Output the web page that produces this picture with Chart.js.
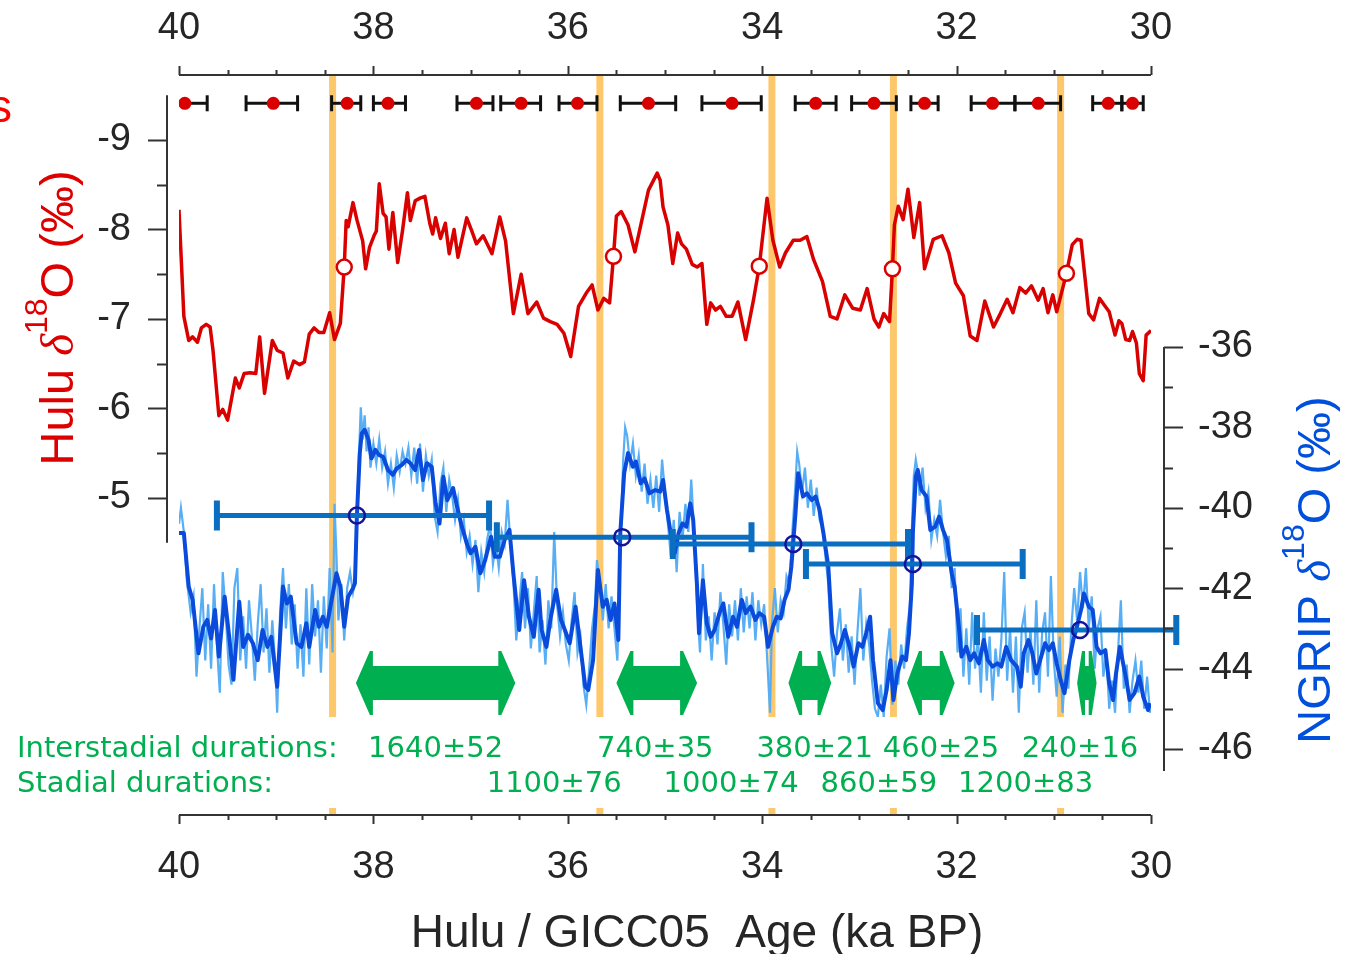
<!DOCTYPE html>
<html lang="en">
<head>
<meta charset="UTF-8" />
<title>Hulu and NGRIP d18O, 40-30 ka BP</title>
<script src="https://cdn.jsdelivr.net/npm/chart.js"></script>
<style>
  html, body { margin: 0; padding: 0; background: #fff; }
  canvas { display: block; }
</style>
</head>
<body>
<canvas id="chart" width="1353" height="954"></canvas>
<script>
// ---- data (age in ka BP, d18O in permil) ----

// axis ticks
const ageTicks = [40, 38, 36, 34, 32, 30];
const huluTicks = [-9, -8, -7, -6, -5];
const ngripTicks = [-36, -38, -40, -42, -44, -46];

// Hulu speleothem d18O [age, d18O]
const huluSeries = [
  [40.00,-8.22],[39.95,-7.03],[39.90,-6.76],[39.86,-6.80],[39.81,-6.74],[39.77,-6.90],[39.72,-6.94],
  [39.68,-6.91],[39.65,-6.65],[39.59,-5.92],[39.55,-5.99],[39.50,-5.87],[39.42,-6.34],[39.38,-6.23],
  [39.33,-6.39],[39.27,-6.40],[39.21,-6.39],[39.17,-6.80],[39.12,-6.17],[39.04,-6.76],[38.99,-6.65],
  [38.93,-6.62],[38.88,-6.34],[38.82,-6.53],[38.76,-6.49],[38.71,-6.52],[38.66,-6.83],[38.61,-6.90],
  [38.56,-6.85],[38.51,-6.85],[38.45,-7.07],[38.40,-6.77],[38.34,-6.95],[38.30,-7.58],[38.28,-8.10],
  [38.26,-8.03],[38.21,-8.30],[38.17,-8.11],[38.11,-7.87],[38.08,-7.56],[38.04,-7.80],[37.99,-7.94],
  [37.97,-7.98],[37.94,-8.51],[37.90,-8.18],[37.87,-8.14],[37.84,-7.78],[37.80,-8.19],[37.75,-7.63],
  [37.70,-7.99],[37.65,-8.41],[37.62,-8.10],[37.57,-8.32],[37.52,-8.35],[37.47,-8.37],[37.42,-8.07],
  [37.39,-7.95],[37.36,-8.13],[37.31,-7.90],[37.26,-8.07],[37.22,-7.73],[37.17,-8.00],[37.13,-7.69],
  [37.04,-8.13],[36.99,-7.99],[36.94,-7.84],[36.87,-7.93],[36.78,-7.73],[36.70,-8.14],[36.64,-7.87],
  [36.56,-7.06],[36.48,-7.50],[36.41,-7.06],[36.32,-7.19],[36.25,-7.01],[36.18,-6.97],[36.11,-6.94],
  [36.04,-6.84],[35.97,-6.58],[35.89,-7.14],[35.81,-7.29],[35.75,-7.38],[35.69,-7.10],[35.63,-7.23],
  [35.57,-7.18],[35.53,-7.70],[35.50,-8.15],[35.45,-8.20],[35.38,-8.05],[35.31,-7.75],[35.17,-8.44],
  [35.08,-8.63],[35.05,-8.55],[35.02,-8.25],[34.97,-8.05],[34.92,-7.62],[34.87,-7.96],[34.83,-7.84],
  [34.78,-7.78],[34.72,-7.61],[34.67,-7.58],[34.62,-7.62],[34.57,-6.94],[34.53,-7.18],[34.48,-7.10],
  [34.43,-7.14],[34.37,-7.03],[34.31,-7.03],[34.25,-7.19],[34.17,-6.77],[34.09,-7.21],[34.03,-7.59],
  [33.95,-8.35],[33.89,-7.88],[33.82,-7.58],[33.76,-7.74],[33.68,-7.88],[33.61,-7.88],[33.54,-7.92],
  [33.47,-7.66],[33.38,-7.42],[33.30,-7.03],[33.23,-7.00],[33.15,-7.27],[33.07,-7.12],[32.99,-7.10],
  [32.92,-7.34],[32.85,-7.00],[32.80,-6.91],[32.75,-7.06],[32.69,-6.97],[32.66,-7.56],[32.64,-8.05],
  [32.60,-8.26],[32.55,-8.11],[32.50,-8.45],[32.44,-7.91],[32.38,-8.30],[32.33,-7.56],[32.24,-7.89],
  [32.15,-7.93],[32.08,-7.74],[32.01,-7.40],[31.93,-7.26],[31.86,-6.81],[31.79,-6.76],[31.71,-7.20],
  [31.62,-6.91],[31.55,-7.06],[31.48,-7.22],[31.42,-7.07],[31.35,-7.35],[31.29,-7.29],[31.23,-7.37],
  [31.16,-7.21],[31.11,-7.34],[31.06,-7.07],[31.01,-7.27],[30.97,-7.08],[30.87,-7.51],[30.81,-7.83],
  [30.76,-7.89],[30.72,-7.88],[30.64,-7.06],[30.59,-6.99],[30.53,-7.23],[30.47,-7.14],[30.43,-7.08],
  [30.37,-6.82],[30.33,-6.98],[30.30,-6.95],[30.26,-6.77],[30.22,-6.76],[30.19,-6.86],[30.15,-6.73],
  [30.12,-6.39],[30.08,-6.31],[30.05,-6.82],[30.00,-6.87]
];

// Hulu transition midpoints (open red circles)
const huluTransAge = [38.30, 35.53, 34.03, 32.66, 30.87];
const huluTransD18O = [-7.58, -7.70, -7.59, -7.56, -7.51];

// U-Th dates with 2-sigma errors (red dots, black bars)
const datingAge   = [39.94, 39.03, 38.27, 37.85, 36.94, 36.48, 35.90, 35.17, 34.31, 33.45, 32.85, 32.33, 31.63, 31.16, 30.44, 30.19];
const datingOld   = [40.17, 39.31, 38.43, 38.00, 37.14, 36.69, 36.09, 35.46, 34.62, 33.66, 33.08, 32.47, 31.85, 31.40, 30.60, 30.30];
const datingYoung = [39.71, 38.78, 38.13, 37.67, 36.77, 36.28, 35.70, 34.89, 34.01, 33.24, 32.62, 32.19, 31.40, 30.93, 30.30, 30.08];
const datingLevel = -9.41;

// Hulu onsets (orange lines)
const onsetAge = [38.42, 35.67, 33.90, 32.65, 30.93];

// NGRIP d18O, smoothed [age, d18O]
const ngripSmooth = [
  [40.00,-40.63],[39.95,-40.63],[39.90,-41.96],[39.86,-42.29],[39.80,-43.62],[39.75,-42.96],[39.71,-42.79],
  [39.67,-43.25],[39.63,-42.54],[39.59,-43.70],[39.53,-42.21],[39.48,-43.29],[39.44,-44.28],[39.38,-42.34],
  [39.34,-43.46],[39.29,-43.16],[39.24,-43.37],[39.19,-43.79],[39.14,-43.04],[39.09,-43.46],[39.05,-43.21],
  [38.99,-44.45],[38.93,-41.96],[38.89,-42.38],[38.85,-42.21],[38.79,-43.37],[38.74,-43.46],[38.69,-42.87],
  [38.66,-43.46],[38.60,-42.54],[38.56,-42.96],[38.52,-42.71],[38.48,-42.96],[38.43,-42.29],[38.38,-41.63],
  [38.34,-41.96],[38.30,-42.96],[38.26,-42.21],[38.21,-42.00],[38.19,-41.88],[38.17,-40.22],[38.14,-38.64],
  [38.12,-38.15],[38.09,-38.06],[38.05,-38.31],[38.02,-38.77],[37.98,-38.56],[37.94,-38.69],[37.90,-38.73],
  [37.85,-39.06],[37.80,-39.18],[37.76,-39.02],[37.71,-38.94],[37.66,-38.81],[37.62,-38.89],[37.57,-39.06],
  [37.53,-38.56],[37.49,-39.31],[37.45,-38.89],[37.40,-38.98],[37.36,-39.89],[37.32,-40.39],[37.28,-39.23],
  [37.24,-39.81],[37.18,-39.51],[37.14,-39.97],[37.09,-40.47],[37.04,-40.88],[37.00,-41.13],[36.95,-40.97],
  [36.90,-41.63],[36.85,-41.30],[36.79,-40.72],[36.75,-41.22],[36.70,-41.22],[36.65,-40.80],[36.60,-40.55],
  [36.56,-41.63],[36.50,-43.04],[36.45,-41.80],[36.40,-42.71],[36.35,-43.21],[36.30,-42.04],[36.27,-43.04],
  [36.22,-43.46],[36.18,-42.79],[36.12,-42.04],[36.07,-42.79],[36.03,-43.04],[35.98,-43.37],[35.92,-42.46],
  [35.87,-43.46],[35.82,-44.45],[35.79,-44.53],[35.74,-43.79],[35.69,-41.55],[35.64,-42.46],[35.60,-42.29],
  [35.56,-42.79],[35.52,-42.38],[35.48,-43.29],[35.46,-40.63],[35.42,-39.14],[35.38,-38.64],[35.33,-38.98],
  [35.30,-38.85],[35.25,-39.39],[35.21,-39.27],[35.16,-39.64],[35.10,-39.56],[35.05,-39.60],[35.02,-39.31],
  [34.98,-40.05],[34.93,-40.80],[34.90,-41.13],[34.86,-40.63],[34.82,-40.39],[34.78,-40.47],[34.74,-39.89],
  [34.71,-40.30],[34.67,-41.96],[34.65,-43.12],[34.61,-41.80],[34.57,-42.87],[34.53,-43.21],[34.49,-43.04],
  [34.44,-42.62],[34.40,-42.38],[34.35,-43.21],[34.30,-42.71],[34.26,-42.96],[34.21,-42.29],[34.17,-42.62],
  [34.12,-42.46],[34.07,-42.79],[34.03,-42.62],[33.98,-42.71],[33.94,-43.46],[33.89,-42.96],[33.85,-42.71],
  [33.81,-42.75],[33.77,-42.29],[33.73,-42.04],[33.70,-41.46],[33.66,-40.22],[33.63,-39.14],[33.58,-39.72],
  [33.54,-39.64],[33.49,-39.81],[33.45,-39.72],[33.41,-40.05],[33.37,-40.63],[33.32,-41.46],[33.28,-43.12],
  [33.23,-43.62],[33.19,-43.37],[33.15,-43.04],[33.10,-43.46],[33.06,-43.95],[33.01,-43.37],[32.97,-43.46],
  [32.93,-43.12],[32.89,-42.71],[32.86,-43.79],[32.81,-44.86],[32.76,-45.03],[32.72,-44.53],[32.68,-43.79],
  [32.65,-44.78],[32.61,-44.12],[32.56,-43.70],[32.52,-43.79],[32.49,-43.12],[32.46,-41.88],[32.45,-40.63],
  [32.42,-39.23],[32.40,-39.06],[32.36,-39.56],[32.31,-39.72],[32.27,-40.55],[32.22,-40.47],[32.18,-40.22],
  [32.14,-40.55],[32.10,-40.80],[32.05,-41.63],[32.02,-41.96],[31.97,-43.12],[31.95,-43.70],[31.90,-43.46],
  [31.86,-43.79],[31.82,-43.62],[31.77,-43.87],[31.72,-43.29],[31.68,-43.79],[31.63,-43.95],[31.58,-43.87],
  [31.54,-43.95],[31.49,-43.46],[31.44,-43.79],[31.38,-43.95],[31.34,-44.45],[31.31,-43.62],[31.26,-43.29],
  [31.22,-43.62],[31.18,-44.12],[31.14,-43.79],[31.09,-43.37],[31.05,-43.54],[31.01,-43.37],[30.97,-43.87],
  [30.93,-44.28],[30.89,-44.61],[30.84,-43.79],[30.80,-43.29],[30.77,-43.04],[30.72,-42.54],[30.69,-42.13],
  [30.64,-42.46],[30.60,-42.54],[30.56,-43.46],[30.52,-43.62],[30.47,-43.54],[30.43,-44.37],[30.39,-44.78],
  [30.36,-44.12],[30.32,-43.46],[30.26,-44.20],[30.22,-44.78],[30.17,-44.61],[30.12,-44.20],[30.08,-44.70],
  [30.03,-45.03],[30.01,-44.86]
];

// NGRIP d18O, raw resolution [age, d18O]
const ngripRaw = [
  [40.00,-40.4],[39.98,-40.0],[39.95,-40.6],[39.92,-41.8],[39.88,-42.6],[39.85,-42.2],[39.82,-44.2],[39.79,-43.0],
  [39.76,-42.0],[39.73,-43.8],[39.70,-42.4],[39.67,-44.0],[39.64,-41.9],[39.61,-43.4],[39.58,-44.6],[39.55,-41.6],
  [39.52,-42.6],[39.49,-43.9],[39.46,-44.4],[39.43,-42.0],[39.40,-41.5],[39.37,-43.8],[39.34,-42.7],[39.31,-44.0],
  [39.28,-42.3],[39.25,-43.2],[39.22,-44.3],[39.19,-42.9],[39.16,-41.9],[39.13,-43.6],[39.10,-42.5],[39.07,-44.1],
  [39.04,-42.8],[39.01,-43.9],[38.99,-45.1],[38.96,-42.6],[38.93,-41.5],[38.90,-43.0],[38.87,-41.9],[38.84,-43.4],
  [38.81,-42.4],[38.78,-44.0],[38.75,-42.9],[38.72,-44.2],[38.69,-42.0],[38.66,-43.9],[38.63,-41.9],[38.60,-43.2],
  [38.57,-42.3],[38.54,-44.1],[38.51,-42.2],[38.48,-43.5],[38.45,-41.5],[38.42,-43.6],[38.40,-39.9],[38.38,-41.2],
  [38.36,-42.8],[38.33,-41.9],[38.30,-43.3],[38.27,-42.0],[38.24,-41.6],[38.21,-42.1],[38.19,-41.8],[38.17,-40.2],
  [38.15,-38.8],[38.13,-37.5],[38.11,-38.3],[38.09,-37.7],[38.07,-38.6],[38.05,-38.0],[38.03,-39.0],[38.00,-38.4],
  [37.97,-38.9],[37.94,-38.3],[37.91,-39.0],[37.88,-38.6],[37.85,-39.4],[37.82,-38.9],[37.79,-39.5],[37.76,-38.7],
  [37.73,-39.1],[37.70,-38.6],[37.67,-38.9],[37.64,-38.5],[37.61,-39.2],[37.58,-38.5],[37.55,-39.4],[37.52,-38.4],
  [37.49,-39.6],[37.46,-38.7],[37.43,-39.2],[37.40,-38.8],[37.37,-40.2],[37.34,-40.6],[37.31,-39.4],[37.28,-39.0],
  [37.25,-40.1],[37.22,-39.3],[37.19,-39.7],[37.16,-40.3],[37.13,-39.8],[37.10,-40.7],[37.07,-40.3],[37.04,-41.1],
  [37.01,-40.7],[36.98,-41.4],[36.95,-40.8],[36.92,-42.1],[36.89,-41.1],[36.86,-41.6],[36.83,-40.8],[36.80,-40.4],
  [36.77,-41.4],[36.74,-40.9],[36.71,-41.5],[36.68,-40.6],[36.65,-40.9],[36.62,-39.8],[36.59,-40.9],[36.56,-41.8],
  [36.53,-43.3],[36.50,-42.4],[36.47,-41.6],[36.44,-43.0],[36.41,-42.0],[36.38,-43.5],[36.35,-42.6],[36.32,-41.7],
  [36.29,-43.6],[36.26,-42.8],[36.23,-43.9],[36.20,-42.3],[36.17,-43.0],[36.14,-40.6],[36.11,-42.4],[36.08,-43.2],
  [36.05,-42.6],[36.02,-43.4],[35.99,-43.8],[35.96,-42.8],[35.93,-42.1],[35.90,-43.6],[35.87,-43.2],[35.84,-44.4],
  [35.81,-44.9],[35.78,-44.0],[35.75,-43.0],[35.72,-42.4],[35.70,-41.3],[35.67,-41.9],[35.64,-42.8],[35.61,-41.9],
  [35.58,-43.0],[35.55,-42.2],[35.52,-43.0],[35.49,-43.8],[35.47,-42.0],[35.45,-40.3],[35.43,-38.8],[35.41,-38.0],
  [35.39,-38.2],[35.36,-38.9],[35.33,-38.4],[35.30,-39.2],[35.27,-38.7],[35.24,-39.6],[35.21,-38.9],[35.18,-39.9],
  [35.15,-39.3],[35.12,-40.0],[35.09,-39.2],[35.06,-40.1],[35.03,-38.8],[35.00,-39.6],[34.97,-40.4],[34.94,-41.2],
  [34.91,-40.3],[34.88,-41.6],[34.85,-40.1],[34.82,-40.8],[34.79,-39.9],[34.76,-40.6],[34.73,-39.3],[34.70,-40.6],
  [34.67,-42.4],[34.64,-43.6],[34.61,-41.4],[34.58,-43.3],[34.55,-42.7],[34.52,-43.8],[34.49,-42.6],[34.46,-43.4],
  [34.43,-42.1],[34.40,-42.9],[34.37,-43.9],[34.34,-42.4],[34.31,-43.2],[34.28,-42.3],[34.25,-43.3],[34.22,-42.0],
  [34.19,-43.1],[34.16,-42.2],[34.13,-43.0],[34.10,-42.1],[34.07,-43.3],[34.04,-42.3],[34.01,-42.9],[33.98,-42.4],
  [33.95,-43.7],[33.92,-45.1],[33.90,-42.9],[33.87,-42.0],[33.84,-43.1],[33.81,-42.3],[33.78,-42.6],[33.75,-41.7],
  [33.72,-41.9],[33.69,-40.6],[33.66,-39.5],[33.64,-38.6],[33.62,-38.9],[33.59,-39.6],[33.56,-39.0],[33.53,-40.0],
  [33.50,-39.3],[33.47,-40.2],[33.44,-39.5],[33.41,-40.3],[33.38,-40.5],[33.35,-41.2],[33.32,-41.9],[33.29,-43.4],
  [33.26,-44.2],[33.23,-43.1],[33.20,-42.5],[33.17,-43.8],[33.14,-42.9],[33.11,-44.1],[33.08,-43.2],[33.05,-44.4],
  [33.02,-43.1],[32.99,-42.0],[32.96,-43.8],[32.93,-42.9],[32.90,-43.4],[32.87,-44.3],[32.84,-45.0],[32.81,-45.2],
  [32.78,-44.4],[32.75,-45.2],[32.72,-43.7],[32.69,-43.0],[32.66,-44.9],[32.63,-43.8],[32.60,-44.4],[32.57,-43.4],
  [32.54,-44.0],[32.51,-43.0],[32.48,-42.4],[32.46,-40.5],[32.44,-39.2],[32.42,-38.8],[32.40,-39.1],[32.38,-39.7],
  [32.35,-39.0],[32.32,-40.0],[32.29,-39.6],[32.26,-40.8],[32.23,-40.3],[32.20,-40.7],[32.17,-39.8],[32.14,-40.6],
  [32.11,-41.2],[32.08,-40.7],[32.05,-42.0],[32.02,-41.5],[31.99,-43.6],[31.96,-42.5],[31.93,-44.2],[31.90,-43.0],
  [31.87,-44.4],[31.84,-42.6],[31.81,-44.0],[31.78,-43.2],[31.75,-44.6],[31.72,-42.6],[31.69,-44.3],[31.66,-43.2],
  [31.63,-44.8],[31.60,-43.5],[31.57,-44.2],[31.54,-43.3],[31.51,-41.6],[31.48,-44.3],[31.45,-43.0],[31.42,-44.6],
  [31.39,-43.2],[31.36,-45.1],[31.33,-43.0],[31.30,-42.6],[31.27,-44.1],[31.24,-43.0],[31.21,-44.4],[31.18,-42.3],
  [31.15,-44.6],[31.12,-43.1],[31.09,-42.6],[31.06,-44.2],[31.03,-41.7],[31.00,-43.8],[30.97,-44.7],[30.94,-43.2],
  [30.91,-45.1],[30.88,-43.9],[30.85,-44.5],[30.82,-43.0],[30.79,-42.0],[30.76,-42.8],[30.73,-41.6],[30.70,-42.5],
  [30.67,-41.5],[30.64,-43.0],[30.61,-42.2],[30.58,-44.0],[30.55,-43.0],[30.52,-42.7],[30.49,-44.2],[30.46,-43.6],
  [30.43,-45.0],[30.40,-44.3],[30.37,-45.1],[30.34,-43.6],[30.31,-42.3],[30.28,-44.5],[30.25,-43.9],[30.22,-45.1],
  [30.19,-44.3],[30.16,-43.8],[30.13,-44.6],[30.10,-43.8],[30.07,-45.0],[30.04,-44.2],[30.01,-45.1]
];

// NGRIP transition midpoints with age uncertainty (blue bars, open circles)
const ngripTransAge   = [38.17, 35.44, 33.68, 32.45, 30.73];
const ngripTransD18O  = [-40.19, -40.73, -40.90, -41.40, -43.04];
const ngripTransOld   = [39.61, 36.73, 34.92, 33.55, 31.79];
const ngripTransYoung = [36.81, 34.11, 32.50, 31.32, 29.74];

// interstadial spans (green arrows) and duration labels
const isStart = [38.18, 35.50, 33.73, 32.51, 30.76];
const isEnd   = [36.54, 34.67, 33.29, 32.02, 30.56];
const arrowLevel = -44.36;
const isLabels   = ['1640±52', '740±35', '380±21', '460±25', '240±16'];
const isLabelAge = [37.36, 35.10, 33.46, 32.16, 30.73];
const stLabels   = ['1100±76', '1000±74', '860±59', '1200±83'];
const stLabelAge = [36.14, 34.32, 32.80, 31.29];

// ---- styles ----
const RED = '#D90000';
const NAVY = '#14149A';
const BAR_BLUE = '#0A6FC0';
const GREEN = '#00AF50';
const ORANGE = '#FDC86C';
const AXIS = '#333333';
const TEXT = '#262626';
const SANS = "'Liberation Sans', Arial, sans-serif";
const tickFont = { family: SANS, size: 38 };

function toXY(ages, vals) { return ages.map((a, i) => ({ x: a, y: vals[i] })); }
function pairsXY(rows) { return rows.map(r => ({ x: r[0], y: r[1] })); }

function richText(ctx, parts, x, y, rotate, color) {
  ctx.save();
  ctx.translate(x, y);
  if (rotate) ctx.rotate(-Math.PI / 2);
  let total = 0;
  parts.forEach(p => { ctx.font = p.font; p.w = ctx.measureText(p.text).width; total += p.w; });
  let cx = -total / 2;
  ctx.fillStyle = color;
  ctx.textAlign = 'left';
  ctx.textBaseline = 'alphabetic';
  parts.forEach(p => { ctx.font = p.font; ctx.fillText(p.text, cx, p.dy || 0); cx += p.w; });
  ctx.restore();
}

function axisTitle(name) {
  return [
    { text: name + ' ', font: '47px ' + SANS },
    { text: 'δ', font: "italic 47px 'Liberation Serif', serif" },
    { text: '18', font: '32px ' + SANS, dy: -26 },
    { text: 'O (‰)', font: '47px ' + SANS }
  ];
}

const overlay = {
  id: 'overlay',
  beforeDatasetsDraw(chart) {
    const { ctx, chartArea: a, scales: { x } } = chart;
    ctx.save();
    ctx.strokeStyle = ORANGE;
    ctx.lineWidth = 7;
    onsetAge.forEach(t => {
      const px = x.getPixelForValue(t);
      ctx.beginPath(); ctx.moveTo(px, a.top); ctx.lineTo(px, a.bottom); ctx.stroke();
    });
    ctx.restore();
  },
  afterDatasetDraw(chart, args) {
    if (chart.data.datasets[args.index].label !== 'Hulu d18O') return;
    const { ctx, scales: { x, yL, yR } } = chart;
    ctx.save();
    // dating error bars
    ctx.strokeStyle = '#111';
    ctx.lineWidth = 3;
    const yd = yL.getPixelForValue(datingLevel);
    datingAge.forEach((t, i) => {
      const xa = x.getPixelForValue(Math.min(datingOld[i], 40));
      const xb = x.getPixelForValue(datingYoung[i]);
      ctx.beginPath(); ctx.moveTo(xa, yd); ctx.lineTo(xb, yd); ctx.stroke();
      ctx.beginPath();
      if (datingOld[i] <= 40) { ctx.moveTo(xa, yd - 8); ctx.lineTo(xa, yd + 8); }
      ctx.moveTo(xb, yd - 8); ctx.lineTo(xb, yd + 8);
      ctx.stroke();
    });
    // NGRIP transition age uncertainty
    ctx.strokeStyle = BAR_BLUE;
    ngripTransAge.forEach((t, i) => {
      const yb = yR.getPixelForValue(ngripTransD18O[i]);
      const xa = x.getPixelForValue(ngripTransOld[i]);
      const xb = x.getPixelForValue(ngripTransYoung[i]);
      ctx.lineWidth = 5;
      ctx.beginPath(); ctx.moveTo(xa, yb); ctx.lineTo(xb, yb); ctx.stroke();
      ctx.lineWidth = 6;
      ctx.beginPath();
      ctx.moveTo(xa, yb - 15); ctx.lineTo(xa, yb + 15);
      ctx.moveTo(xb, yb - 15); ctx.lineTo(xb, yb + 15);
      ctx.stroke();
    });
    ctx.restore();
  },
  afterDatasetsDraw(chart) {
    const { ctx, chartArea: a, scales: { x, yR } } = chart;
    ctx.save();
    // interstadial arrows
    ctx.fillStyle = GREEN;
    const yc = yR.getPixelForValue(arrowLevel);
    isStart.forEach((s, i) => {
      const x1 = x.getPixelForValue(s), x2 = x.getPixelForValue(isEnd[i]);
      const hl = Math.min(14, (x2 - x1) / 4), hh = 32, sh = 17, bk = 3;
      ctx.beginPath();
      ctx.moveTo(x1, yc);
      ctx.lineTo(x1 + hl, yc - hh); ctx.lineTo(x1 + hl + bk, yc - hh); ctx.lineTo(x1 + hl + bk, yc - sh);
      ctx.lineTo(x2 - hl - bk, yc - sh); ctx.lineTo(x2 - hl - bk, yc - hh); ctx.lineTo(x2 - hl, yc - hh);
      ctx.lineTo(x2, yc);
      ctx.lineTo(x2 - hl, yc + hh); ctx.lineTo(x2 - hl - bk, yc + hh); ctx.lineTo(x2 - hl - bk, yc + sh);
      ctx.lineTo(x1 + hl + bk, yc + sh); ctx.lineTo(x1 + hl + bk, yc + hh); ctx.lineTo(x1 + hl, yc + hh);
      ctx.closePath();
      ctx.fill();
    });
    // text box
    ctx.fillStyle = '#fff';
    ctx.fillRect(0, a.bottom - 98, a.right + 6, 91);
    ctx.fillStyle = GREEN;
    ctx.font = "29px 'DejaVu Sans', sans-serif";
    ctx.textBaseline = 'alphabetic';
    ctx.textAlign = 'left';
    const row1 = a.bottom - 58, row2 = a.bottom - 23;
    ctx.fillText('Interstadial durations:', 17, row1);
    ctx.fillText('Stadial durations:', 17, row2);
    ctx.textAlign = 'center';
    isLabels.forEach((s, i) => ctx.fillText(s, x.getPixelForValue(isLabelAge[i]), row1));
    stLabels.forEach((s, i) => ctx.fillText(s, x.getPixelForValue(stLabelAge[i]), row2));
    ctx.restore();
  },
  afterDraw(chart) {
    const { ctx, chartArea: a, scales: { x, yL, yR } } = chart;
    ctx.save();
    ctx.strokeStyle = AXIS;
    ctx.lineWidth = 2;
    // age axes, top and bottom
    [[a.top, -1], [a.bottom, 1]].forEach(([y0, dir]) => {
      ctx.beginPath(); ctx.moveTo(a.left, y0); ctx.lineTo(a.right, y0); ctx.stroke();
      ctx.beginPath();
      for (let t = 30; t <= 40; t += 0.5) {
        const px = Math.round(x.getPixelForValue(t)) + 0.5;
        const len = t % 2 === 0 ? 9 : 5;
        ctx.moveTo(px, y0); ctx.lineTo(px, y0 + dir * len);
      }
      ctx.stroke();
    });
    // Hulu axis (left)
    const xl = a.left - 12;
    ctx.beginPath();
    ctx.moveTo(xl, yL.getPixelForValue(-9.5)); ctx.lineTo(xl, yL.getPixelForValue(-4.5));
    for (let v = -9; v <= -5; v += 0.5) {
      const py = Math.round(yL.getPixelForValue(v)) + 0.5;
      ctx.moveTo(xl, py); ctx.lineTo(xl - (Number.isInteger(v) ? 19 : 10), py);
    }
    ctx.stroke();
    // NGRIP axis (right)
    const xr = a.right + 13;
    ctx.beginPath();
    ctx.moveTo(xr, yR.getPixelForValue(-36)); ctx.lineTo(xr, yR.getPixelForValue(-46.55));
    for (let v = -36; v >= -46; v -= 1) {
      const py = Math.round(yR.getPixelForValue(v)) + 0.5;
      ctx.moveTo(xr, py); ctx.lineTo(xr + (v % 2 === 0 ? 19 : 9), py);
    }
    ctx.stroke();
    ctx.restore();

    // axis titles
    richText(ctx, axisTitle('Hulu'), 73, 318, true, '#DD0000');
    richText(ctx, axisTitle('NGRIP'), 1330, 570, true, '#0050DC');
    ctx.save();
    ctx.fillStyle = TEXT;
    ctx.font = '46px ' + SANS;
    ctx.textAlign = 'center';
    ctx.textBaseline = 'alphabetic';
    ctx.fillText('Hulu / GICC05  Age (ka BP)', 697, 947);
    // clipped panel letter at the left edge
    ctx.fillStyle = '#FF0000';
    ctx.textAlign = 'left';
    ctx.fillText('s', -11, 122);
    ctx.restore();
  }
};

const hiddenGrid = { display: false, drawTicks: false };
const noBorder = { display: false };

new Chart(document.getElementById('chart'), {
  type: 'line',
  data: {
    datasets: [
      {
        label: 'Hulu transitions', data: toXY(huluTransAge, huluTransD18O), yAxisID: 'yL',
        showLine: false, pointRadius: 7.5, pointBackgroundColor: '#fff',
        pointBorderColor: RED, pointBorderWidth: 2.5
      },
      {
        label: 'NGRIP transitions', data: toXY(ngripTransAge, ngripTransD18O), yAxisID: 'yR',
        showLine: false, pointRadius: 8, pointBackgroundColor: 'rgba(255,255,255,0)',
        pointBorderColor: NAVY, pointBorderWidth: 2.5
      },
      {
        label: 'U-Th dates', data: datingAge.map(a => ({ x: a, y: datingLevel })), yAxisID: 'yL',
        showLine: false, pointRadius: 6.5, pointBackgroundColor: RED,
        pointBorderColor: RED, pointBorderWidth: 0
      },
      {
        label: 'Hulu d18O', data: pairsXY(huluSeries), yAxisID: 'yL',
        borderColor: RED, borderWidth: 3.5, pointRadius: 0, tension: 0, borderJoinStyle: 'round'
      },
      {
        label: 'NGRIP smoothed', data: pairsXY(ngripSmooth), yAxisID: 'yR',
        borderColor: '#0A4BDB', borderWidth: 4, pointRadius: 0, tension: 0, borderJoinStyle: 'round'
      },
      {
        label: 'NGRIP raw', data: pairsXY(ngripRaw), yAxisID: 'yR',
        borderColor: '#58AEF4', borderWidth: 2.2, pointRadius: 0, tension: 0
      }
    ]
  },
  options: {
    responsive: false,
    animation: false,
    devicePixelRatio: 1,
    events: [],
    layout: { padding: 0 },
    plugins: { legend: { display: false }, tooltip: { enabled: false } },
    scales: {
      x: {
        type: 'linear', position: 'bottom', min: 30, max: 40, reverse: true,
        afterBuildTicks: s => { s.ticks = ageTicks.map(v => ({ value: v })); },
        afterFit: s => { s.height = 139; },
        ticks: { font: tickFont, color: TEXT, padding: 30, maxRotation: 0, autoSkip: false },
        grid: hiddenGrid, border: noBorder
      },
      xTop: {
        type: 'linear', axis: 'x', position: 'top', min: 30, max: 40, reverse: true,
        afterBuildTicks: s => { s.ticks = ageTicks.map(v => ({ value: v })); },
        afterFit: s => { s.height = 75; },
        ticks: { font: tickFont, color: TEXT, padding: 24, maxRotation: 0, autoSkip: false },
        grid: hiddenGrid, border: noBorder
      },
      yL: {
        type: 'linear', position: 'left', min: -9.726, max: -1.458, reverse: true,
        afterBuildTicks: s => { s.ticks = huluTicks.map(v => ({ value: v })); },
        afterFit: s => { s.width = 179; },
        ticks: { font: tickFont, color: TEXT, padding: 48 },
        grid: hiddenGrid, border: noBorder
      },
      yR: {
        type: 'linear', position: 'right', min: -47.642, max: -29.234,
        afterBuildTicks: s => { s.ticks = ngripTicks.map(v => ({ value: v })); },
        afterFit: s => { s.width = 202; },
        ticks: { font: tickFont, color: TEXT, padding: 47 },
        grid: hiddenGrid, border: noBorder
      }
    }
  },
  plugins: [overlay]
});
</script>
</body>
</html>
